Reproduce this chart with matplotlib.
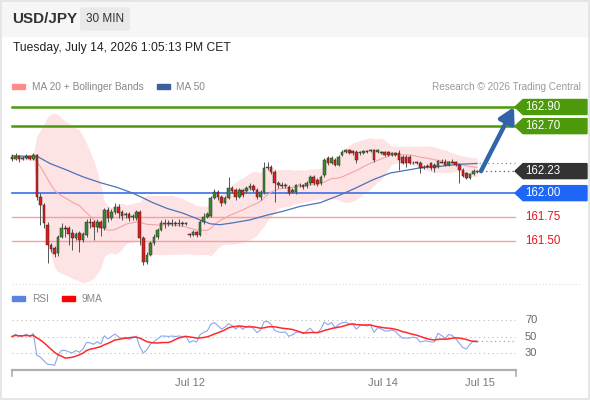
import numpy as np
import pandas as pd
import matplotlib
matplotlib.use("Agg")
import matplotlib.pyplot as plt
from matplotlib.patches import Polygon, Rectangle, FancyBboxPatch

plt.rcParams['font.family'] = ['Liberation Sans', 'DejaVu Sans']

# ---- data (USD/JPY, 30 min candles) ----
open_ = [
    162.38, 162.36, 162.39, 162.36, 162.37, 162.39, 162.36, 162.40, 161.96, 161.88,
    161.67, 161.46, 161.43, 161.37, 161.54, 161.64, 161.64, 161.58, 161.53, 161.58,
    161.51, 161.56, 161.70, 161.70, 161.65, 161.70, 161.64, 161.82, 161.74, 161.80,
    161.86, 161.80, 161.77, 161.78, 161.75, 161.74, 161.80, 161.53, 161.28, 161.35,
    161.48, 161.54, 161.61, 161.68, 161.69, 161.68, 161.69, 161.68, 161.69, 161.68,
    161.57, 161.56, 161.59, 161.56, 161.70, 161.75, 161.76, 161.95, 162.01, 161.96,
    161.90, 161.95, 162.05, 162.03, 161.96, 162.03, 162.02, 162.05, 162.07, 162.03,
    161.96, 162.01, 162.26, 162.27, 162.22, 162.11, 162.08, 162.07, 162.06, 162.01,
    162.01, 162.08, 162.08, 162.07, 162.11, 162.17, 162.14, 162.11, 162.19, 162.37,
    162.31, 162.35, 162.29, 162.40, 162.43, 162.45, 162.44, 162.43, 162.42, 162.42,
    162.44, 162.44, 162.45, 162.43, 162.42, 162.43, 162.43, 162.40, 162.42, 162.42,
    162.38, 162.38, 162.38, 162.31, 162.33, 162.31, 162.26, 162.28, 162.31, 162.29,
    162.27, 162.33, 162.33, 162.29, 162.33, 162.33, 162.29, 162.24, 162.21, 162.16,
    162.20, 162.22]
close = [
    162.36, 162.39, 162.36, 162.37, 162.39, 162.36, 162.40, 161.96, 161.88, 161.69,
    161.46, 161.42, 161.36, 161.54, 161.64, 161.63, 161.57, 161.53, 161.57, 161.51,
    161.57, 161.70, 161.69, 161.65, 161.70, 161.64, 161.82, 161.74, 161.80, 161.86,
    161.79, 161.76, 161.78, 161.74, 161.76, 161.80, 161.53, 161.28, 161.35, 161.48,
    161.54, 161.61, 161.69, 161.69, 161.68, 161.69, 161.68, 161.69, 161.68, 161.69,
    161.56, 161.59, 161.56, 161.70, 161.75, 161.78, 161.95, 162.01, 161.96, 161.90,
    161.95, 162.05, 162.02, 161.96, 162.03, 161.98, 162.05, 162.07, 162.03, 161.96,
    162.01, 162.26, 162.27, 162.22, 162.11, 162.08, 162.07, 162.08, 162.00, 162.03,
    162.08, 162.09, 162.06, 162.11, 162.17, 162.11, 162.10, 162.17, 162.35, 162.31,
    162.37, 162.29, 162.38, 162.43, 162.45, 162.42, 162.42, 162.35, 162.43, 162.44,
    162.43, 162.45, 162.35, 162.45, 162.43, 162.40, 162.40, 162.42, 162.40, 162.35,
    162.31, 162.31, 162.31, 162.32, 162.31, 162.26, 162.27, 162.27, 162.26, 162.26,
    162.34, 162.32, 162.29, 162.33, 162.32, 162.29, 162.24, 162.18, 162.16, 162.20,
    162.23, 162.23]
high = [
    162.41, 162.42, 162.40, 162.39, 162.41, 162.40, 162.42, 162.41, 162.00, 161.90,
    161.70, 161.48, 161.45, 161.56, 161.69, 161.67, 161.66, 161.63, 161.59, 161.60,
    161.59, 161.73, 161.74, 161.72, 161.73, 161.72, 161.84, 161.86, 161.83, 161.90,
    161.89, 161.82, 161.80, 161.80, 161.78, 161.82, 161.82, 161.55, 161.38, 161.50,
    161.57, 161.64, 161.72, 161.73, 161.72, 161.73, 161.71, 161.73, 161.71, 161.70,
    161.58, 161.61, 161.60, 161.72, 161.79, 161.80, 161.97, 162.04, 162.03, 161.98,
    161.97, 162.17, 162.07, 162.05, 162.05, 162.04, 162.07, 162.11, 162.10, 162.05,
    162.03, 162.33, 162.33, 162.29, 162.24, 162.13, 162.12, 162.11, 162.08, 162.05,
    162.10, 162.11, 162.10, 162.13, 162.19, 162.19, 162.16, 162.19, 162.37, 162.39,
    162.39, 162.37, 162.40, 162.45, 162.46, 162.46, 162.45, 162.45, 162.44, 162.45,
    162.45, 162.46, 162.46, 162.46, 162.44, 162.44, 162.44, 162.43, 162.43, 162.45,
    162.40, 162.40, 162.40, 162.34, 162.34, 162.34, 162.29, 162.30, 162.33, 162.31,
    162.35, 162.36, 162.36, 162.34, 162.36, 162.34, 162.30, 162.26, 162.22, 162.21,
    162.25, 162.24]
low = [
    162.34, 162.35, 162.33, 162.35, 162.36, 162.35, 162.35, 161.93, 161.67, 161.64,
    161.27, 161.38, 161.33, 161.34, 161.53, 161.54, 161.46, 161.41, 161.51, 161.38,
    161.49, 161.54, 161.64, 161.51, 161.59, 161.55, 161.61, 161.70, 161.72, 161.78,
    161.74, 161.72, 161.74, 161.71, 161.72, 161.72, 161.46, 161.25, 161.26, 161.34,
    161.46, 161.52, 161.60, 161.64, 161.66, 161.66, 161.66, 161.66, 161.66, 161.67,
    161.54, 161.55, 161.54, 161.55, 161.68, 161.74, 161.75, 161.94, 161.93, 161.87,
    161.89, 161.94, 162.00, 161.93, 161.95, 161.96, 162.00, 162.03, 162.01, 161.94,
    161.93, 161.99, 162.24, 162.20, 161.91, 162.05, 162.05, 162.05, 161.98, 162.00,
    161.99, 162.06, 162.04, 162.05, 162.08, 162.08, 162.07, 162.08, 162.17, 162.29,
    162.30, 162.28, 162.28, 162.39, 162.42, 162.41, 162.40, 162.31, 162.40, 162.41,
    162.42, 162.43, 162.33, 162.42, 162.41, 162.39, 162.39, 162.39, 162.39, 162.24,
    162.30, 162.27, 162.30, 162.30, 162.30, 162.21, 162.25, 162.26, 162.24, 162.22,
    162.26, 162.31, 162.28, 162.28, 162.31, 162.28, 162.11, 162.17, 162.15, 162.15,
    162.19, 162.21]

# MA 50 (candle index, price)
ma50_idx = [0, 7.3, 10.7, 15.5, 20, 24.8, 29.6, 34, 36.9, 39.7, 43.7, 48.2, 53, 55.8,
            58.6, 62.3, 67, 71.8, 76.3, 81, 86.8, 92.4, 97.2, 101.7, 106.5, 111.3,
            115.8, 120.6, 125.4, 131]
ma50_val = [162.39, 162.38, 162.31, 162.24, 162.17, 162.11, 162.06, 162.00, 161.95,
            161.90, 161.84, 161.79, 161.72, 161.68, 161.67, 161.69, 161.72, 161.77,
            161.81, 161.86, 161.90, 161.98, 162.06, 162.14, 162.21, 162.24, 162.27,
            162.28, 162.30, 162.31]

resist = [162.90, 162.70]
pivot = 162.00
support = [161.75, 161.50]
last_price = 162.23
rsi_levels = [70, 50, 30]
rsi_seed = 0.02    # average move before the visible window (RSI ~50 at start)
date_labels = ['Jul 12', 'Jul 14', 'Jul 15']
date_idx = [50.1, 104.5, 131.8]

# ---- layout helpers (pixel based, figure is 590 x 400) ----
W, H = 590, 400
PX = 3.55          # pixels per candle
X0 = 12            # pixel of first candle


def ix(px):
    return (px - X0) / PX


def add_px_axes(y0, y1):
    return fig.add_axes([0, 1 - y1 / H, 1, (y1 - y0) / H])


fig = plt.figure(figsize=(W / 100, H / 100), dpi=100)
fig.patch.set_facecolor('white')

# background / header overlay in pixel coords
bg = fig.add_axes([0, 0, 1, 1])
bg.set_xlim(0, W)
bg.set_ylim(H, 0)
bg.axis('off')
bg.add_patch(Rectangle((0, 0), W, 36, color='#f6f6f6', zorder=0))
bg.add_patch(Rectangle((0.5, 0.5), W - 2, H - 2, fill=False, ec='#e2e2e2', lw=1.2))
bg.text(12, 19, 'USD/JPY', fontsize=11, fontweight='bold', color='#333333', va='center')
bg.add_patch(FancyBboxPatch((80, 7.5), 50, 23, boxstyle='round,pad=0,rounding_size=2',
                            fc='#e9e9e9', ec='none'))
bg.text(105, 19.5, '30 MIN', fontsize=8.5, color='#333333', ha='center', va='center')
bg.text(13, 48.5, 'Tuesday, July 14, 2026 1:05:13 PM CET', fontsize=8.7, color='#222222',
        va='center')
bg.add_patch(Rectangle((12, 84), 13, 5, color='#ff8a8a'))
bg.text(32, 86.5, 'MA 20 + Bollinger Bands', fontsize=7.3, color='#888888', va='center')
bg.add_patch(Rectangle((157, 84), 13, 5, color='#3d5f9e'))
bg.text(176, 86.5, 'MA 50', fontsize=7.3, color='#888888', va='center')
bg.text(581, 86.5, 'Research \u00a9 2026 Trading Central', fontsize=7.2, color='#9a9a9a',
        ha='right', va='center')
bg.plot([12, 580], [284, 284], ls=(0, (1, 2)), color='#dddddd', lw=0.8)
bg.add_patch(Rectangle((12, 296), 13, 5, color='#5b84e0'))
bg.text(32, 298.5, 'RSI', fontsize=7.3, color='#888888', va='center')
bg.add_patch(Rectangle((62, 296), 13, 5, color='#ff0000'))
bg.text(82, 298.5, '9MA', fontsize=7.3, color='#888888', va='center')

# ---- price panel ----
ax = add_px_axes(95, 283)
ax.set_facecolor('none')
ax.axis('off')
ax.set_xlim(ix(0), ix(W))
ppx = 95.7      # pixels per 1.00 yen
ax.set_ylim(162.90 - (283 - 107) / ppx, 162.90 + (107 - 95) / ppx)

o = np.array(open_)
c = np.array(close)
h = np.array(high)
l = np.array(low)
x = np.arange(len(c))

s = pd.Series(c)
ma20 = s.rolling(20, min_periods=1).mean()
sd = s.rolling(20, min_periods=1).std(ddof=0)
ax.fill_between(x, ma20 - 2 * sd, ma20 + 2 * sd, color='#fde3e3', lw=0, zorder=1)
ax.plot(x, ma20, color='#f6a3a3', lw=0.8, zorder=3)
ax.plot(ma50_idx, ma50_val, color='#4d72b8', lw=0.9, zorder=3)

line_end = ix(515)
for p in resist:
    ax.plot([0, line_end], [p, p], color='#4c9a0c', lw=1.8, zorder=2)
ax.plot([0, line_end], [pivot, pivot], color='#3a6fe8', lw=1.2, zorder=2)
for p in support:
    ax.plot([0, line_end], [p, p], color='#f4a0a0', lw=1.0, zorder=2)

# dotted extensions of last price and MA 50
ax.plot([x[-1], line_end], [last_price, last_price], ls=(0, (1, 2.5)), color='#555555', lw=0.9)
ax.plot([ma50_idx[-1] + 0.5, line_end], [ma50_val[-1], ma50_val[-1]], ls=(0, (1, 2.5)),
        color='#6f8fc8', lw=0.9)

# candles
up = c >= o
body_lo = np.minimum(o, c)
body_h = np.maximum(np.abs(c - o), 0.008)
ax.vlines(x, l, h, color='#555555', lw=0.7, zorder=4)
ax.bar(x[up], body_h[up], bottom=body_lo[up], width=0.76, color='#3b8a2e',
       edgecolor='#2b2b2b', lw=0.35, zorder=5)
ax.bar(x[~up], body_h[~up], bottom=body_lo[~up], width=0.76, color='#dd1c1c',
       edgecolor='#2b2b2b', lw=0.35, zorder=5)

# scenario arrow
ax.annotate('', xy=(ix(514), resist[0]), xytext=(ix(481), last_price),
            arrowprops=dict(arrowstyle='-|>,head_length=0.9,head_width=0.5', lw=3.2,
                            color='#3164a8', shrinkA=0, shrinkB=0), zorder=6)

# right hand tags
hh = 7.5 / ppx


def tag(price, color):
    pts = [(ix(515), price), (ix(523), price + hh), (ix(587), price + hh),
           (ix(587), price - hh), (ix(523), price - hh)]
    ax.add_patch(Polygon(pts, closed=True, color=color, clip_on=False, zorder=7))
    ax.text(ix(525), price, f'{price:.2f}', color='white', fontsize=8.3, va='center',
            zorder=8)


for p in resist:
    tag(p, '#4c9a0c')
tag(last_price, '#333333')
tag(pivot, '#1e66f5')
for p in support:
    ax.text(ix(525), p, f'{p:.2f}', color='#e8111b', fontsize=8.3, va='center')

# ---- RSI panel ----
ar = add_px_axes(300, 390)
ar.set_facecolor('none')
ar.axis('off')
ar.set_xlim(ix(0), ix(W))
rpx = 33 / 40    # pixels per RSI point
ar.set_ylim(30 - (390 - 353) / rpx, 30 + (353 - 300) / rpx)

delta = s.diff()
up_mv = delta.clip(lower=0)
dn_mv = -delta.clip(upper=0)
up_mv.iloc[0] = rsi_seed
dn_mv.iloc[0] = rsi_seed
gain = up_mv.ewm(alpha=1 / 14, adjust=False).mean()
loss = dn_mv.ewm(alpha=1 / 14, adjust=False).mean()
rsi = 100 - 100 / (1 + gain / loss)
rsi_ma = rsi.rolling(9, min_periods=1).mean()

for lv in rsi_levels:
    ar.plot([0, ix(515)], [lv, lv], ls=(0, (1, 3)), color='#bbbbbb', lw=0.8)
    ar.text(ix(525), lv, str(lv), fontsize=8, color='#666666', va='center')
ar.plot(x, rsi, color='#8aa6ee', lw=0.8)
ar.plot(x, rsi_ma, color='#ff2a2a', lw=1.1)
ar.plot([x[-1], ix(515)], [rsi.iloc[-1]] * 2, ls=(0, (1, 2.5)), color='#8aa6ee', lw=0.9)

axis_y = 30 - (370 - 353) / rpx
tick_y = 30 - (376 - 353) / rpx
ar.plot([0, ix(516)], [axis_y, axis_y], color='#b0b0b0', lw=1.6, clip_on=False)
for xe in [0, ix(516)]:
    ar.plot([xe, xe], [axis_y, tick_y], color='#b0b0b0', lw=1.2, clip_on=False)
for lab, xi in zip(date_labels, date_idx):
    ar.text(xi, 30 - (383 - 353) / rpx, lab, fontsize=8, color='#777777',
            ha='center', va='center')

fig.savefig('out.png', dpi=100)
